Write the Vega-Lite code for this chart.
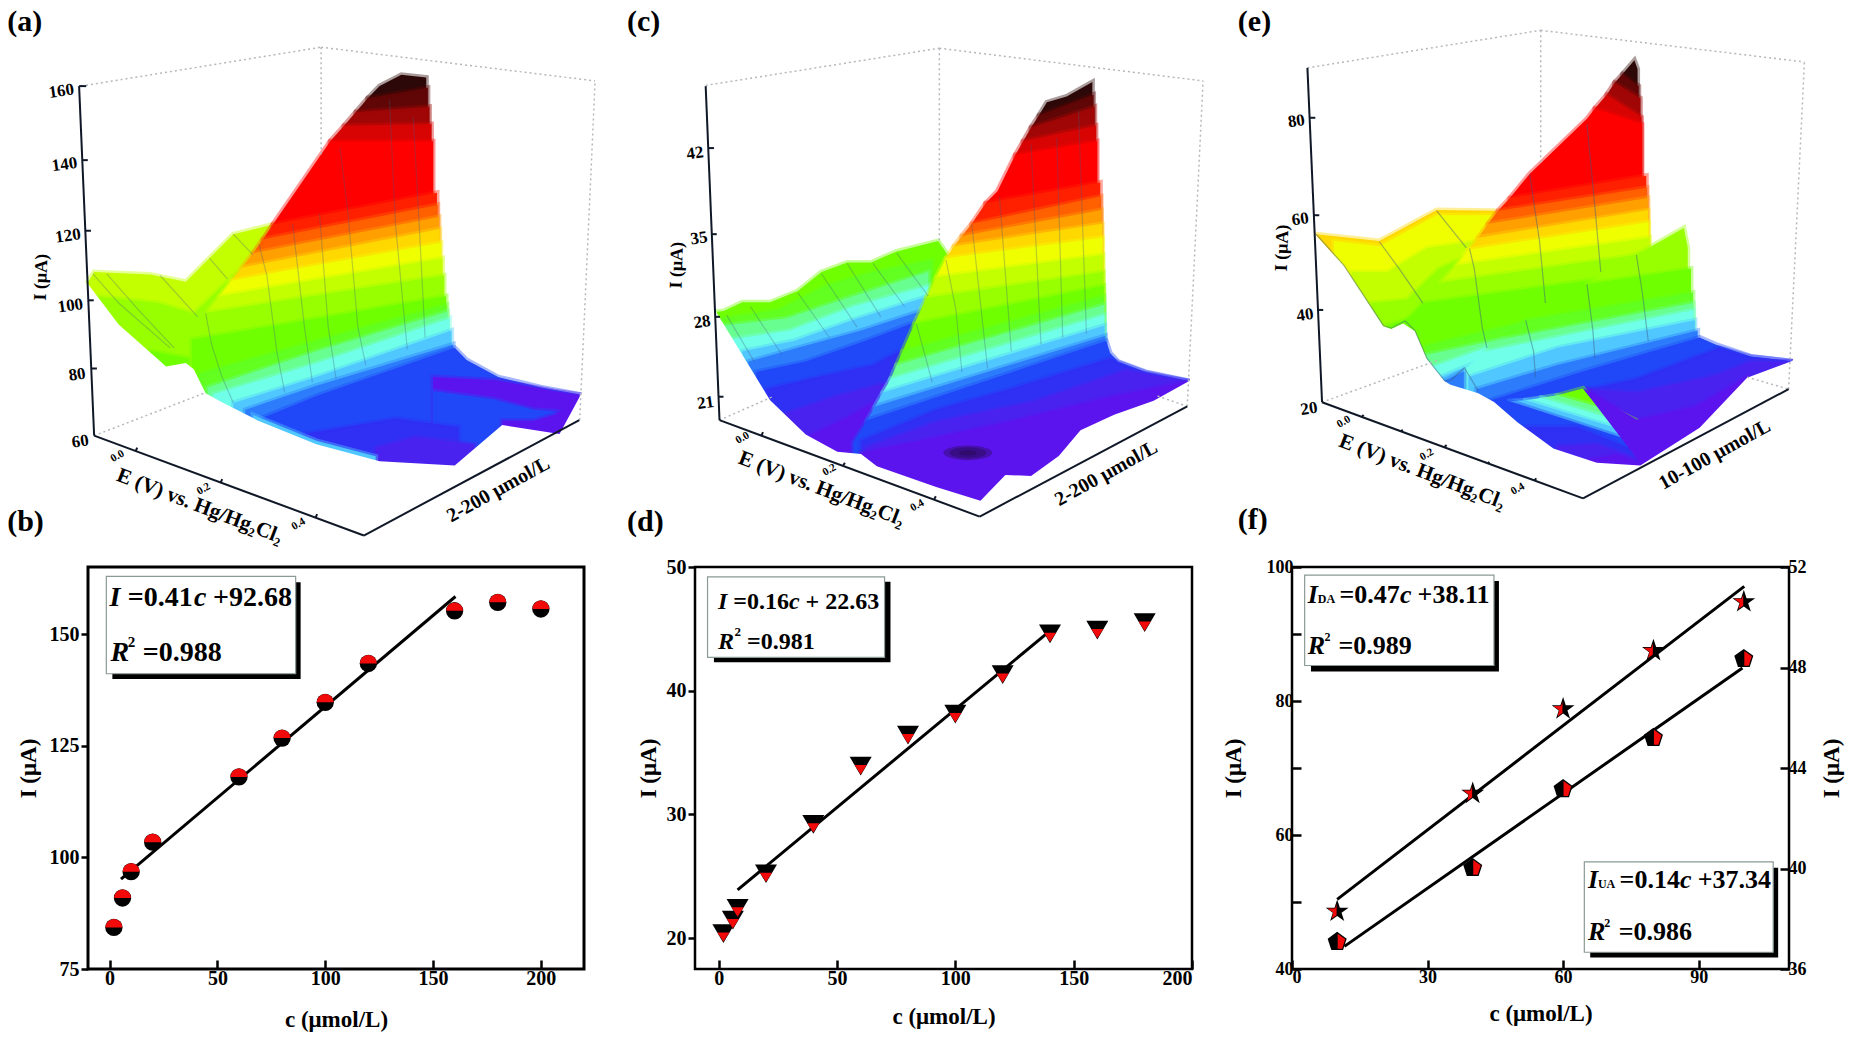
{"$schema":"https://vega.github.io/schema/vega-lite/v6.json","padding":{"left":7,"top":0,"right":0,"bottom":0},"background":"white","config":{"view":{"stroke":null},"font":"Liberation Serif","text":{"font":"Liberation Serif"}},"columns":3,"bounds":"flush","spacing":{"row":27,"column":100},"concat":[
{"width":507,"height":540,"encoding":{"x":{"field":"x","type":"quantitative","scale":{"domain":[222.5,1504.7],"nice":false,"zero":false},"axis":null},"y":{"field":"y","type":"quantitative","scale":{"domain":[1568,0],"nice":false,"zero":false},"axis":null}},"layer":[
{"data":{"values":[
{"s":"w","level":11,"x":222,"y":820},{"s":"w","level":11,"x":238,"y":790},{"s":"w","level":11,"x":380,"y":797},{"s":"w","level":11,"x":470,"y":818},{"s":"w","level":11,"x":590,"y":680},{"s":"w","level":11,"x":690,"y":652},
{"s":"w","level":10,"x":240,"y":860},{"s":"w","level":10,"x":400,"y":880},{"s":"w","level":10,"x":490,"y":910},{"s":"w","level":10,"x":600,"y":790},{"s":"w","level":10,"x":680,"y":725},
{"s":"w","level":9,"x":380,"y":1020},{"s":"w","level":9,"x":480,"y":1040},
{"s":"m","level":21,"x":930,"y":285},{"s":"m","level":21,"x":960,"y":250},{"s":"m","level":21,"x":1015,"y":217},{"s":"m","level":21,"x":1078,"y":225},
{"s":"m","level":20,"x":900,"y":325},{"s":"m","level":20,"x":930,"y":285},{"s":"m","level":20,"x":1082,"y":255},
{"s":"m","level":19,"x":870,"y":365},{"s":"m","level":19,"x":900,"y":325},{"s":"m","level":19,"x":1086,"y":310},
{"s":"m","level":18,"x":835,"y":410},{"s":"m","level":18,"x":870,"y":365},{"s":"m","level":18,"x":1091,"y":360},
{"s":"m","level":17,"x":690,"y":652},{"s":"m","level":17,"x":835,"y":410},{"s":"m","level":17,"x":1095,"y":410},
{"s":"m","level":16,"x":665,"y":695},{"s":"m","level":16,"x":690,"y":652},{"s":"m","level":16,"x":1105,"y":560},
{"s":"m","level":15,"x":640,"y":735},{"s":"m","level":15,"x":665,"y":695},{"s":"m","level":15,"x":1107,"y":595},
{"s":"m","level":14,"x":612,"y":777},{"s":"m","level":14,"x":640,"y":735},{"s":"m","level":14,"x":1110,"y":630},
{"s":"m","level":13,"x":585,"y":815},{"s":"m","level":13,"x":612,"y":777},{"s":"m","level":13,"x":1112,"y":665},
{"s":"m","level":12,"x":555,"y":860},{"s":"m","level":12,"x":585,"y":815},{"s":"m","level":12,"x":1115,"y":705},
{"s":"m","level":11,"x":522,"y":908},{"s":"m","level":11,"x":555,"y":860},{"s":"m","level":11,"x":1119,"y":750},
{"s":"m","level":10,"x":485,"y":985},{"s":"m","level":10,"x":522,"y":908},{"s":"m","level":10,"x":1123,"y":800},
{"s":"m","level":9,"x":485,"y":986},{"s":"m","level":9,"x":800,"y":925},{"s":"m","level":9,"x":1128,"y":860},
{"s":"m","level":8,"x":505,"y":1085},{"s":"m","level":8,"x":800,"y":990},{"s":"m","level":8,"x":1130,"y":885},
{"s":"m","level":7,"x":525,"y":1125},{"s":"m","level":7,"x":800,"y":1020},{"s":"m","level":7,"x":1132,"y":905},
{"s":"m","level":6,"x":540,"y":1145},{"s":"m","level":6,"x":800,"y":1055},{"s":"m","level":6,"x":1137,"y":925},
{"s":"m","level":5,"x":590,"y":1170},{"s":"m","level":5,"x":800,"y":1095},{"s":"m","level":5,"x":1142,"y":960},
{"s":"m","level":4,"x":620,"y":1190},{"s":"m","level":4,"x":800,"y":1120},{"s":"m","level":4,"x":1146,"y":1000},
{"s":"m","level":3,"x":660,"y":1215},{"s":"m","level":3,"x":800,"y":1150},{"s":"m","level":3,"x":1000,"y":1070},{"s":"m","level":3,"x":1150,"y":1010},{"s":"m","level":3,"x":1180,"y":1045},{"s":"m","level":3,"x":1260,"y":1095},{"s":"m","level":3,"x":1370,"y":1125},{"s":"m","level":3,"x":1465,"y":1145},
{"s":"p","level":0,"x":1095,"y":1095},{"s":"p","level":0,"x":1260,"y":1105},{"s":"p","level":0,"x":1400,"y":1135},{"s":"p","level":0,"x":1465,"y":1146},
{"s":"q","level":3,"x":1095,"y":1135},{"s":"q","level":3,"x":1250,"y":1160},{"s":"q","level":3,"x":1350,"y":1190},{"s":"q","level":3,"x":1465,"y":1200},
{"s":"q","level":2,"x":760,"y":1262},{"s":"q","level":2,"x":1000,"y":1215},{"s":"q","level":2,"x":1160,"y":1240},
{"s":"q","level":1,"x":950,"y":1300},{"s":"q","level":1,"x":1050,"y":1270},{"s":"q","level":1,"x":1200,"y":1290},
{"s":"r","level":0,"x":1270,"y":1222},{"s":"r","level":0,"x":1350,"y":1222},{"s":"r","level":0,"x":1400,"y":1205},{"s":"r","level":0,"x":1450,"y":1170},
{"s":"t","level":5,"x":640,"y":1205},{"s":"t","level":5,"x":800,"y":1280},{"s":"t","level":5,"x":950,"y":1325}
]},"mark":{"type":"area","strokeWidth":5,"strokeOpacity":0.4},"encoding":{"y2":{"datum":1568},"stroke":{"field":"level","type":"quantitative","legend":null,"scale":{"domain":[0,1,2,3,4,5,6,7,8,9,10,11,12,13,14,15,16,17,18,19,20,21],"range":["#5c14ee","#4a22f0","#3030f4","#2048f8","#2c7cfc","#50c8ff","#70ffe8","#68ff90","#62ff20","#70ff00","#98ff00","#c4ff00","#f0ff00","#ffd800","#ffa000","#ff6000","#ff2000","#ff0000","#d80404","#a00606","#600606","#2c0808"]}},"color":{"field":"level","type":"quantitative","legend":null,"scale":{"domain":[0,1,2,3,4,5,6,7,8,9,10,11,12,13,14,15,16,17,18,19,20,21],"range":["#5c14ee","#4a22f0","#3030f4","#2048f8","#2c7cfc","#50c8ff","#70ffe8","#68ff90","#62ff20","#70ff00","#98ff00","#c4ff00","#f0ff00","#ffd800","#ffa000","#ff6000","#ff2000","#ff0000","#d80404","#a00606","#600606","#2c0808"]}},"detail":[{"field":"s","type":"nominal"},{"field":"level","type":"nominal"}]}},
{"data":{"values":[{"x":210,"y":822},{"x":222,"y":824},{"x":300,"y":942},{"x":420,"y":1064},{"x":470,"y":1054},{"x":490,"y":1072},{"x":520,"y":1142},{"x":560,"y":1167},{"x":650,"y":1220},{"x":800,"y":1290},{"x":960,"y":1339},{"x":1150,"y":1352},{"x":1270,"y":1234},{"x":1415,"y":1260},{"x":1468,"y":1148},{"x":1482,"y":1120}]},"mark":{"type":"area","color":"white"},"encoding":{"y2":{"datum":1590}}},
{"data":{"values":[
{"g":"1","x":520,"y":910},{"g":"1","x":535,"y":1000},{"g":"1","x":560,"y":1090},{"g":"1","x":590,"y":1170},
{"g":"2","x":655,"y":710},{"g":"2","x":675,"y":800},{"g":"2","x":700,"y":1020},{"g":"2","x":720,"y":1140},
{"g":"3","x":740,"y":650},{"g":"3","x":770,"y":950},{"g":"3","x":790,"y":1110},
{"g":"4","x":808,"y":620},{"g":"4","x":830,"y":950},{"g":"4","x":850,"y":1100},
{"g":"5","x":860,"y":430},{"g":"5","x":880,"y":620},{"g":"5","x":905,"y":950},{"g":"5","x":925,"y":1060},
{"g":"6","x":985,"y":290},{"g":"6","x":1000,"y":650},{"g":"6","x":1030,"y":1015},
{"g":"7","x":1045,"y":340},{"g":"7","x":1060,"y":650},{"g":"7","x":1075,"y":980},
{"g":"8","x":235,"y":795},{"g":"8","x":300,"y":880},{"g":"8","x":430,"y":1010},
{"g":"9","x":270,"y":795},{"g":"9","x":350,"y":900},{"g":"9","x":440,"y":1010},
{"g":"10","x":405,"y":800},{"g":"10","x":500,"y":920},
{"g":"11","x":590,"y":680},{"g":"11","x":640,"y":740},
{"g":"12","x":530,"y":750},{"g":"12","x":575,"y":810}
]},"mark":{"type":"line","color":"#3a5a80","opacity":0.3,"strokeWidth":1.2},"encoding":{"detail":{"field":"g","type":"nominal"}}},
{"data":{"values":[
{"g":"a","x":205,"y":250},{"g":"a","x":812,"y":137},{"g":"b","x":812,"y":137},{"g":"b","x":1505,"y":235},{"g":"c","x":812,"y":137},{"g":"c","x":812,"y":450},{"g":"d","x":1466,"y":1220},{"g":"d","x":1505,"y":235},{"g":"e","x":238,"y":1265},{"g":"e","x":520,"y":1140}
]},"mark":{"type":"line","color":"#b4b8bc","strokeWidth":1.5,"strokeDash":[2,3]},"encoding":{"detail":{"field":"g","type":"nominal"}}},
{"data":{"values":[
{"g":"a","x":200,"y":250},{"g":"a","x":238,"y":1265},{"g":"t1","x":200,"y":250},{"g":"t1","x":218,"y":250},{"g":"t2","x":208,"y":465},{"g":"t2","x":222,"y":465},{"g":"t3","x":216,"y":670},{"g":"t3","x":230,"y":670},{"g":"t4","x":223,"y":872},{"g":"t4","x":237,"y":872},{"g":"t5","x":231,"y":1070},{"g":"t5","x":245,"y":1070},
{"g":"f","x":238,"y":1265},{"g":"f","x":920,"y":1555},{"g":"u1","x":343,"y":1310},{"g":"u1","x":347,"y":1300},{"g":"u2","x":558,"y":1401},{"g":"u2","x":562,"y":1391},{"g":"u3","x":798,"y":1503},{"g":"u3","x":802,"y":1493},
{"g":"r","x":920,"y":1555},{"g":"r","x":1465,"y":1220}
]},"mark":{"type":"line","color":"#101828","strokeWidth":2},"encoding":{"detail":{"field":"g","type":"nominal"}}},
{"data":{"values":[{"x":155,"y":265,"t":"160"},{"x":163,"y":478,"t":"140"},{"x":172,"y":685,"t":"120"},{"x":178,"y":888,"t":"100"},{"x":195,"y":1088,"t":"80"},{"x":203,"y":1282,"t":"60"}]},"mark":{"type":"text","angle":-8,"fontSize":17,"fontWeight":"bold","align":"center","baseline":"middle"},"encoding":{"text":{"field":"t"}}},
{"data":{"values":[{"x":105,"y":805,"t":"I (μA)"}]},"mark":{"type":"text","angle":-88,"fontSize":18,"fontWeight":"bold","align":"center","baseline":"middle"},"encoding":{"text":{"field":"t"}}},
{"data":{"values":[{"x":297,"y":1325,"t":"0.0"},{"x":515,"y":1420,"t":"0.2"},{"x":755,"y":1522,"t":"0.4"}]},"mark":{"type":"text","angle":-30,"fontSize":11,"fontWeight":"bold","align":"center","baseline":"middle"},"encoding":{"text":{"field":"t"}}},
{"data":{"values":[{"x":505,"y":1470,"t":"E (V) vs. Hg/Hg₂Cl₂"}]},"mark":{"type":"text","angle":21,"fontSize":21,"fontWeight":"bold","align":"center","baseline":"middle"},"encoding":{"text":{"field":"t"}}},
{"data":{"values":[{"x":1260,"y":1422,"t":"2-200 μmol/L"}]},"mark":{"type":"text","angle":-29,"fontSize":20,"fontWeight":"bold","align":"center","baseline":"middle"},"encoding":{"text":{"field":"t"}}},
{"data":{"values":[{"x":18,"y":65,"t":"(a)"},{"x":18,"y":1515,"t":"(b)"}]},"mark":{"type":"text","fontSize":30,"fontWeight":"bold","align":"left","baseline":"middle"},"encoding":{"text":{"field":"t"}}}
]},
{"width":497,"height":540,"encoding":{"x":{"field":"x","type":"quantitative","scale":{"domain":[190,1447],"nice":false,"zero":false},"axis":null},"y":{"field":"y","type":"quantitative","scale":{"domain":[1568,0],"nice":false,"zero":false},"axis":null}},"layer":[
{"data":{"values":[
{"s":"w","level":9,"x":245,"y":905},{"s":"w","level":9,"x":262,"y":903},{"s":"w","level":9,"x":310,"y":878},{"s":"w","level":9,"x":380,"y":878},{"s":"w","level":9,"x":450,"y":845},{"s":"w","level":9,"x":510,"y":790},{"s":"w","level":9,"x":575,"y":762},{"s":"w","level":9,"x":635,"y":762},{"s":"w","level":9,"x":700,"y":730},{"s":"w","level":9,"x":805,"y":700},{"s":"w","level":9,"x":832,"y":745},
{"s":"w","level":8,"x":255,"y":925},{"s":"w","level":8,"x":400,"y":900},{"s":"w","level":8,"x":520,"y":830},{"s":"w","level":8,"x":640,"y":790},{"s":"w","level":8,"x":790,"y":755},
{"s":"w","level":7,"x":265,"y":945},{"s":"w","level":7,"x":420,"y":925},{"s":"w","level":7,"x":590,"y":860},{"s":"w","level":7,"x":780,"y":790},
{"s":"w","level":6,"x":285,"y":985},{"s":"w","level":6,"x":430,"y":960},{"s":"w","level":6,"x":590,"y":890},{"s":"w","level":6,"x":780,"y":830},
{"s":"w","level":5,"x":310,"y":1020},{"s":"w","level":5,"x":440,"y":990},{"s":"w","level":5,"x":600,"y":925},{"s":"w","level":5,"x":780,"y":860},
{"s":"w","level":4,"x":325,"y":1050},{"s":"w","level":4,"x":450,"y":1010},{"s":"w","level":4,"x":610,"y":960},{"s":"w","level":4,"x":770,"y":900},
{"s":"w","level":3,"x":345,"y":1080},{"s":"w","level":3,"x":470,"y":1050},{"s":"w","level":3,"x":620,"y":990},{"s":"w","level":3,"x":760,"y":930},
{"s":"w","level":2,"x":370,"y":1130},{"s":"w","level":2,"x":480,"y":1100},{"s":"w","level":2,"x":640,"y":1060},{"s":"w","level":2,"x":740,"y":1000},
{"s":"w","level":1,"x":420,"y":1200},{"s":"w","level":1,"x":550,"y":1150},{"s":"w","level":1,"x":680,"y":1110},
{"s":"w","level":0,"x":480,"y":1265},{"s":"w","level":0,"x":580,"y":1210},{"s":"w","level":0,"x":640,"y":1170},
{"s":"m","level":21,"x":1060,"y":335},{"s":"m","level":21,"x":1080,"y":297},{"s":"m","level":21,"x":1130,"y":280},{"s":"m","level":21,"x":1195,"y":238},
{"s":"m","level":20,"x":1040,"y":370},{"s":"m","level":20,"x":1060,"y":335},{"s":"m","level":20,"x":1198,"y":275},
{"s":"m","level":19,"x":1020,"y":410},{"s":"m","level":19,"x":1040,"y":370},{"s":"m","level":19,"x":1201,"y":310},
{"s":"m","level":18,"x":1000,"y":450},{"s":"m","level":18,"x":1020,"y":410},{"s":"m","level":18,"x":1204,"y":365},
{"s":"m","level":17,"x":925,"y":590},{"s":"m","level":17,"x":955,"y":555},{"s":"m","level":17,"x":1000,"y":450},{"s":"m","level":17,"x":1207,"y":410},
{"s":"m","level":16,"x":890,"y":650},{"s":"m","level":16,"x":925,"y":590},{"s":"m","level":16,"x":1215,"y":530},
{"s":"m","level":15,"x":865,"y":685},{"s":"m","level":15,"x":890,"y":650},{"s":"m","level":15,"x":1217,"y":570},
{"s":"m","level":14,"x":845,"y":715},{"s":"m","level":14,"x":865,"y":685},{"s":"m","level":14,"x":1218,"y":610},
{"s":"m","level":13,"x":825,"y":750},{"s":"m","level":13,"x":845,"y":715},{"s":"m","level":13,"x":1220,"y":650},
{"s":"m","level":12,"x":800,"y":805},{"s":"m","level":12,"x":825,"y":750},{"s":"m","level":12,"x":1221,"y":690},
{"s":"m","level":11,"x":775,"y":865},{"s":"m","level":11,"x":800,"y":805},{"s":"m","level":11,"x":1222,"y":740},
{"s":"m","level":10,"x":745,"y":940},{"s":"m","level":10,"x":775,"y":865},{"s":"m","level":10,"x":1223,"y":790},
{"s":"m","level":9,"x":715,"y":1020},{"s":"m","level":9,"x":745,"y":940},{"s":"m","level":9,"x":1224,"y":830},
{"s":"m","level":8,"x":700,"y":1060},{"s":"m","level":8,"x":715,"y":1020},{"s":"m","level":8,"x":1224.5,"y":860},
{"s":"m","level":7,"x":685,"y":1100},{"s":"m","level":7,"x":700,"y":1060},{"s":"m","level":7,"x":1225,"y":885},
{"s":"m","level":6,"x":665,"y":1140},{"s":"m","level":6,"x":685,"y":1100},{"s":"m","level":6,"x":1225.5,"y":915},
{"s":"m","level":5,"x":645,"y":1180},{"s":"m","level":5,"x":665,"y":1140},{"s":"m","level":5,"x":1226,"y":945},
{"s":"m","level":4,"x":625,"y":1220},{"s":"m","level":4,"x":645,"y":1180},{"s":"m","level":4,"x":1228,"y":975},
{"s":"m","level":3,"x":590,"y":1285},{"s":"m","level":3,"x":625,"y":1220},{"s":"m","level":3,"x":1230,"y":990},{"s":"m","level":3,"x":1240,"y":1025},{"s":"m","level":3,"x":1260,"y":1050},{"s":"m","level":3,"x":1330,"y":1080},{"s":"m","level":3,"x":1435,"y":1105},
{"s":"m","level":2,"x":610,"y":1280},{"s":"m","level":2,"x":800,"y":1190},{"s":"m","level":2,"x":1000,"y":1125},{"s":"m","level":2,"x":1240,"y":1040},{"s":"m","level":2,"x":1260,"y":1052},{"s":"m","level":2,"x":1330,"y":1082},{"s":"m","level":2,"x":1435,"y":1106},
{"s":"m","level":1,"x":620,"y":1300},{"s":"m","level":1,"x":800,"y":1225},{"s":"m","level":1,"x":1050,"y":1165},{"s":"m","level":1,"x":1280,"y":1075},{"s":"m","level":1,"x":1330,"y":1085},{"s":"m","level":1,"x":1435,"y":1107},
{"s":"m","level":0,"x":610,"y":1315},{"s":"m","level":0,"x":800,"y":1270},{"s":"m","level":0,"x":1000,"y":1220},{"s":"m","level":0,"x":1250,"y":1150},{"s":"m","level":0,"x":1435,"y":1108}
]},"mark":{"type":"area","strokeWidth":5,"strokeOpacity":0.4},"encoding":{"y2":{"datum":1568},"stroke":{"field":"level","type":"quantitative","legend":null,"scale":{"domain":[0,1,2,3,4,5,6,7,8,9,10,11,12,13,14,15,16,17,18,19,20,21],"range":["#5c14ee","#4a22f0","#3030f4","#2048f8","#2c7cfc","#50c8ff","#70ffe8","#68ff90","#62ff20","#70ff00","#98ff00","#c4ff00","#f0ff00","#ffd800","#ffa000","#ff6000","#ff2000","#ff0000","#d80404","#a00606","#600606","#2c0808"]}},"color":{"field":"level","type":"quantitative","legend":null,"scale":{"domain":[0,1,2,3,4,5,6,7,8,9,10,11,12,13,14,15,16,17,18,19,20,21],"range":["#5c14ee","#4a22f0","#3030f4","#2048f8","#2c7cfc","#50c8ff","#70ffe8","#68ff90","#62ff20","#70ff00","#98ff00","#c4ff00","#f0ff00","#ffd800","#ffa000","#ff6000","#ff2000","#ff0000","#d80404","#a00606","#600606","#2c0808"]}},"detail":[{"field":"s","type":"nominal"},{"field":"level","type":"nominal"}]}},
{"data":{"values":[{"x":232,"y":880},{"x":245,"y":909},{"x":300,"y":1012},{"x":380,"y":1162},{"x":470,"y":1262},{"x":550,"y":1312},{"x":610,"y":1318},{"x":650,"y":1354},{"x":800,"y":1414},{"x":912,"y":1454},{"x":975,"y":1379},{"x":1040,"y":1382},{"x":1110,"y":1324},{"x":1165,"y":1249},{"x":1250,"y":1204},{"x":1350,"y":1164},{"x":1440,"y":1106},{"x":1455,"y":1090}]},"mark":{"type":"area","color":"white"},"encoding":{"y2":{"datum":1590}}},
{"data":{"values":[{"x":880,"y":1315,"d":3},{"x":880,"y":1315,"d":2},{"x":880,"y":1315,"d":1}]},"mark":{"type":"point","shape":"M-2 0A2 .6 0 1 1 2 0A2 .6 0 1 1 -2 0Z","filled":true,"color":"#200838","opacity":0.35,"strokeWidth":0},"encoding":{"size":{"field":"d","type":"quantitative","legend":null,"scale":{"domain":[1,3],"range":[80,600]}}}},
{"data":{"values":[
{"g":"1","x":270,"y":915},{"g":"1","x":340,"y":1050},{"g":"2","x":330,"y":890},{"g":"2","x":410,"y":1030},{"g":"3","x":450,"y":850},{"g":"3","x":530,"y":980},{"g":"4","x":510,"y":795},{"g":"4","x":600,"y":950},{"g":"5","x":575,"y":765},{"g":"5","x":660,"y":920},{"g":"6","x":640,"y":765},{"g":"6","x":720,"y":890},{"g":"7","x":700,"y":735},{"g":"7","x":780,"y":860},
{"g":"8","x":825,"y":755},{"g":"8","x":850,"y":900},{"g":"8","x":865,"y":1080},{"g":"9","x":750,"y":940},{"g":"9","x":790,"y":1110},{"g":"10","x":890,"y":650},{"g":"10","x":930,"y":1070},{"g":"11","x":960,"y":570},{"g":"11","x":990,"y":1020},{"g":"12","x":1040,"y":420},{"g":"12","x":1065,"y":1000},{"g":"13","x":1105,"y":400},{"g":"13","x":1120,"y":980},{"g":"14","x":1160,"y":320},{"g":"14","x":1180,"y":970}
]},"mark":{"type":"line","color":"#3a5a80","opacity":0.3,"strokeWidth":1.2},"encoding":{"detail":{"field":"g","type":"nominal"}}},
{"data":{"values":[
{"g":"a","x":217,"y":248},{"g":"a","x":808,"y":140},{"g":"b","x":808,"y":140},{"g":"b","x":1475,"y":235},{"g":"c","x":808,"y":140},{"g":"c","x":808,"y":700},{"g":"d","x":1435,"y":1180},{"g":"d","x":1475,"y":235},{"g":"e","x":252,"y":1220},{"g":"e","x":390,"y":1150},{"g":"f","x":1360,"y":1150},{"g":"f","x":1435,"y":1180}
]},"mark":{"type":"line","color":"#b4b8bc","strokeWidth":1.5,"strokeDash":[2,3]},"encoding":{"detail":{"field":"g","type":"nominal"}}},
{"data":{"values":[
{"g":"a","x":217,"y":250},{"g":"a","x":252,"y":1220},{"g":"t1","x":224,"y":430},{"g":"t1","x":238,"y":430},{"g":"t2","x":233,"y":680},{"g":"t2","x":245,"y":680},{"g":"t3","x":241,"y":920},{"g":"t3","x":253,"y":920},{"g":"t4","x":250,"y":1152},{"g":"t4","x":262,"y":1152},
{"g":"f","x":252,"y":1220},{"g":"f","x":910,"y":1500},{"g":"u1","x":358,"y":1265},{"g":"u1","x":362,"y":1255},{"g":"u2","x":565,"y":1352},{"g":"u2","x":569,"y":1344},{"g":"u3","x":795,"y":1450},{"g":"u3","x":799,"y":1441},
{"g":"r","x":910,"y":1500},{"g":"r","x":1435,"y":1180}
]},"mark":{"type":"line","color":"#101828","strokeWidth":2},"encoding":{"detail":{"field":"g","type":"nominal"}}},
{"data":{"values":[{"x":190,"y":445,"t":"42"},{"x":200,"y":692,"t":"35"},{"x":208,"y":935,"t":"28"},{"x":217,"y":1170,"t":"21"}]},"mark":{"type":"text","angle":-8,"fontSize":17,"fontWeight":"bold","align":"center","baseline":"middle"},"encoding":{"text":{"field":"t"}}},
{"data":{"values":[{"x":145,"y":770,"t":"I (μA)"}]},"mark":{"type":"text","angle":-88,"fontSize":18,"fontWeight":"bold","align":"center","baseline":"middle"},"encoding":{"text":{"field":"t"}}},
{"data":{"values":[{"x":310,"y":1272,"t":"0.0"},{"x":530,"y":1365,"t":"0.2"},{"x":752,"y":1468,"t":"0.4"}]},"mark":{"type":"text","angle":-30,"fontSize":11,"fontWeight":"bold","align":"center","baseline":"middle"},"encoding":{"text":{"field":"t"}}},
{"data":{"values":[{"x":510,"y":1420,"t":"E (V) vs. Hg/Hg₂Cl₂"}]},"mark":{"type":"text","angle":21,"fontSize":21,"fontWeight":"bold","align":"center","baseline":"middle"},"encoding":{"text":{"field":"t"}}},
{"data":{"values":[{"x":1230,"y":1375,"t":"2-200 μmol/L"}]},"mark":{"type":"text","angle":-29,"fontSize":20,"fontWeight":"bold","align":"center","baseline":"middle"},"encoding":{"text":{"field":"t"}}},
{"data":{"values":[{"x":18,"y":65,"t":"(c)"},{"x":18,"y":1515,"t":"(d)"}]},"mark":{"type":"text","fontSize":30,"fontWeight":"bold","align":"left","baseline":"middle"},"encoding":{"text":{"field":"t"}}}
]},
{"width":497,"height":540,"encoding":{"x":{"field":"x","type":"quantitative","scale":{"domain":[129,1386],"nice":false,"zero":false},"axis":null},"y":{"field":"y","type":"quantitative","scale":{"domain":[1568,0],"nice":false,"zero":false},"axis":null}},"layer":[
{"data":{"values":[
{"s":"w","level":13,"x":190,"y":680},{"s":"w","level":13,"x":350,"y":700},{"s":"w","level":13,"x":495,"y":610},{"s":"w","level":13,"x":640,"y":612},{"s":"w","level":13,"x":655,"y":625},
{"s":"w","level":12,"x":235,"y":700},{"s":"w","level":12,"x":350,"y":715},{"s":"w","level":12,"x":495,"y":625},{"s":"w","level":12,"x":640,"y":625},
{"s":"w","level":11,"x":280,"y":790},{"s":"w","level":11,"x":370,"y":790},{"s":"w","level":11,"x":470,"y":720},{"s":"w","level":11,"x":600,"y":700},
{"s":"w","level":10,"x":330,"y":880},{"s":"w","level":10,"x":420,"y":870},{"s":"w","level":10,"x":500,"y":780},{"s":"w","level":10,"x":580,"y":740},
{"s":"w","level":9,"x":370,"y":945},{"s":"w","level":9,"x":440,"y":920},
{"s":"m","level":21,"x":965,"y":215},{"s":"m","level":21,"x":995,"y":175},{"s":"m","level":21,"x":1003,"y":200},
{"s":"m","level":20,"x":945,"y":240},{"s":"m","level":20,"x":965,"y":215},{"s":"m","level":20,"x":1006,"y":250},
{"s":"m","level":19,"x":925,"y":275},{"s":"m","level":19,"x":945,"y":240},{"s":"m","level":19,"x":1010,"y":285},
{"s":"m","level":18,"x":895,"y":315},{"s":"m","level":18,"x":925,"y":275},{"s":"m","level":18,"x":1013,"y":340},
{"s":"m","level":17,"x":680,"y":575},{"s":"m","level":17,"x":730,"y":505},{"s":"m","level":17,"x":875,"y":345},{"s":"m","level":17,"x":895,"y":315},{"s":"m","level":17,"x":1014,"y":360},
{"s":"m","level":16,"x":650,"y":612},{"s":"m","level":16,"x":680,"y":575},{"s":"m","level":16,"x":1025,"y":510},
{"s":"m","level":15,"x":625,"y":650},{"s":"m","level":15,"x":650,"y":612},{"s":"m","level":15,"x":1027,"y":545},
{"s":"m","level":14,"x":600,"y":690},{"s":"m","level":14,"x":625,"y":650},{"s":"m","level":14,"x":1029,"y":575},
{"s":"m","level":13,"x":575,"y":725},{"s":"m","level":13,"x":600,"y":690},{"s":"m","level":13,"x":1030,"y":610},
{"s":"m","level":12,"x":545,"y":770},{"s":"m","level":12,"x":575,"y":725},{"s":"m","level":12,"x":1031,"y":645},
{"s":"m","level":11,"x":505,"y":820},{"s":"m","level":11,"x":545,"y":770},{"s":"m","level":11,"x":1033,"y":690},
{"s":"m","level":10,"x":460,"y":880},{"s":"m","level":10,"x":505,"y":820},{"s":"m","level":10,"x":1034,"y":735},
{"s":"m","level":9,"x":415,"y":935},{"s":"m","level":9,"x":460,"y":880},{"s":"m","level":9,"x":1036,"y":790},
{"s":"m","level":8,"x":465,"y":1005},{"s":"m","level":8,"x":700,"y":940},{"s":"m","level":8,"x":1036,"y":830},
{"s":"m","level":7,"x":470,"y":1030},{"s":"m","level":7,"x":700,"y":975},{"s":"m","level":7,"x":1036,"y":880},
{"s":"m","level":6,"x":485,"y":1065},{"s":"m","level":6,"x":620,"y":1010},
{"s":"m","level":5,"x":505,"y":1095},{"s":"m","level":5,"x":620,"y":1040},
{"s":"m","level":4,"x":515,"y":1105},{"s":"m","level":4,"x":560,"y":1080},{"s":"m","level":4,"x":640,"y":1070},
{"s":"f","level":10,"x":875,"y":825},{"s":"f","level":10,"x":1000,"y":740},{"s":"f","level":10,"x":1120,"y":662},{"s":"f","level":10,"x":1130,"y":720},
{"s":"f","level":9,"x":720,"y":930},{"s":"f","level":9,"x":875,"y":825},{"s":"f","level":9,"x":1138,"y":780},
{"s":"f","level":8,"x":660,"y":985},{"s":"f","level":8,"x":720,"y":930},{"s":"f","level":8,"x":1143,"y":850},
{"s":"f","level":7,"x":620,"y":1020},{"s":"f","level":7,"x":660,"y":985},{"s":"f","level":7,"x":1144,"y":880},
{"s":"f","level":6,"x":570,"y":1068},{"s":"f","level":6,"x":620,"y":1020},{"s":"f","level":6,"x":1145,"y":900},
{"s":"f","level":5,"x":575,"y":1095},{"s":"f","level":5,"x":800,"y":1010},{"s":"f","level":5,"x":1148,"y":930},
{"s":"f","level":4,"x":595,"y":1130},{"s":"f","level":4,"x":800,"y":1060},{"s":"f","level":4,"x":1155,"y":960},
{"s":"f","level":3,"x":625,"y":1165},{"s":"f","level":3,"x":860,"y":1080},{"s":"f","level":3,"x":1160,"y":980},{"s":"f","level":3,"x":1200,"y":1000},{"s":"f","level":3,"x":1290,"y":1035},{"s":"f","level":3,"x":1390,"y":1048},
{"s":"f","level":2,"x":800,"y":1150},{"s":"f","level":2,"x":1000,"y":1100},{"s":"f","level":2,"x":1210,"y":1010},{"s":"f","level":2,"x":1290,"y":1036},{"s":"f","level":2,"x":1390,"y":1049},
{"s":"f","level":1,"x":880,"y":1130},{"s":"f","level":1,"x":1000,"y":1140},{"s":"f","level":1,"x":1200,"y":1090},{"s":"f","level":1,"x":1290,"y":1050},{"s":"f","level":1,"x":1390,"y":1050},
{"s":"f","level":0,"x":880,"y":1135},{"s":"f","level":0,"x":1000,"y":1220},{"s":"f","level":0,"x":1150,"y":1180},{"s":"f","level":0,"x":1280,"y":1095},
{"s":"p","level":9,"x":800,"y":1148},{"s":"p","level":9,"x":865,"y":1128},{"s":"p","level":9,"x":885,"y":1158},{"s":"p","level":9,"x":1012,"y":1228},
{"s":"p","level":7,"x":760,"y":1155},{"s":"p","level":7,"x":800,"y":1148},{"s":"p","level":7,"x":900,"y":1180},{"s":"p","level":7,"x":1012,"y":1230},
{"s":"p","level":6,"x":720,"y":1162},{"s":"p","level":6,"x":760,"y":1155},{"s":"p","level":6,"x":920,"y":1210},{"s":"p","level":6,"x":1012,"y":1232},
{"s":"p","level":5,"x":680,"y":1165},{"s":"p","level":5,"x":720,"y":1162},{"s":"p","level":5,"x":940,"y":1240},{"s":"p","level":5,"x":1012,"y":1250},
{"s":"p","level":3,"x":640,"y":1165},{"s":"p","level":3,"x":680,"y":1165},{"s":"p","level":3,"x":960,"y":1270},{"s":"p","level":3,"x":1012,"y":1280},
{"s":"p","level":2,"x":720,"y":1240},{"s":"p","level":2,"x":850,"y":1240},{"s":"p","level":2,"x":980,"y":1300},{"s":"p","level":2,"x":1012,"y":1310},
{"s":"p","level":1,"x":800,"y":1295},{"s":"p","level":1,"x":900,"y":1290},{"s":"p","level":1,"x":1000,"y":1330},{"s":"p","level":1,"x":1012,"y":1340},
{"s":"p","level":0,"x":880,"y":1335},{"s":"p","level":0,"x":950,"y":1320},{"s":"p","level":0,"x":1012,"y":1345}
]},"mark":{"type":"area","strokeWidth":5,"strokeOpacity":0.4},"encoding":{"y2":{"datum":1568},"stroke":{"field":"level","type":"quantitative","legend":null,"scale":{"domain":[0,1,2,3,4,5,6,7,8,9,10,11,12,13,14,15,16,17,18,19,20,21],"range":["#5c14ee","#4a22f0","#3030f4","#2048f8","#2c7cfc","#50c8ff","#70ffe8","#68ff90","#62ff20","#70ff00","#98ff00","#c4ff00","#f0ff00","#ffd800","#ffa000","#ff6000","#ff2000","#ff0000","#d80404","#a00606","#600606","#2c0808"]}},"color":{"field":"level","type":"quantitative","legend":null,"scale":{"domain":[0,1,2,3,4,5,6,7,8,9,10,11,12,13,14,15,16,17,18,19,20,21],"range":["#5c14ee","#4a22f0","#3030f4","#2048f8","#2c7cfc","#50c8ff","#70ffe8","#68ff90","#62ff20","#70ff00","#98ff00","#c4ff00","#f0ff00","#ffd800","#ffa000","#ff6000","#ff2000","#ff0000","#d80404","#a00606","#600606","#2c0808"]}},"detail":[{"field":"s","type":"nominal"},{"field":"level","type":"nominal"}]}},
{"data":{"values":[{"x":865,"y":1128,"b":1128},{"x":880,"y":1135,"b":1150},{"x":1000,"y":1218,"b":1330},{"x":1014,"y":1216,"b":1352},{"x":1026,"y":1212,"b":1345}]},"mark":{"type":"area","color":"#5c14ee"},"encoding":{"y2":{"field":"b"}}},
{"data":{"values":[{"x":175,"y":664},{"x":190,"y":684},{"x":260,"y":772},{"x":360,"y":947},{"x":380,"y":955},{"x":410,"y":939},{"x":440,"y":962},{"x":470,"y":1042},{"x":515,"y":1107},{"x":530,"y":1117},{"x":600,"y":1142},{"x":640,"y":1167},{"x":700,"y":1227},{"x":790,"y":1302},{"x":900,"y":1344},{"x":1010,"y":1352},{"x":1160,"y":1242},{"x":1280,"y":1097},{"x":1394,"y":1048},{"x":1410,"y":1030}]},"mark":{"type":"area","color":"white"},"encoding":{"y2":{"datum":1590}}},
{"data":{"values":[
{"g":"1","x":350,"y":702},{"g":"1","x":400,"y":780},{"g":"1","x":460,"y":880},{"g":"2","x":495,"y":612},{"g":"2","x":570,"y":720},
{"g":"3","x":578,"y":722},{"g":"3","x":590,"y":780},{"g":"3","x":610,"y":950},{"g":"3","x":622,"y":1010},
{"g":"4","x":730,"y":505},{"g":"4","x":755,"y":700},{"g":"4","x":770,"y":880},
{"g":"5","x":875,"y":360},{"g":"5","x":895,"y":600},{"g":"5","x":910,"y":790},
{"g":"6","x":720,"y":930},{"g":"6","x":740,"y":1020},{"g":"6","x":745,"y":1095},
{"g":"7","x":875,"y":825},{"g":"7","x":890,"y":960},{"g":"7","x":895,"y":1040},
{"g":"8","x":1000,"y":740},{"g":"8","x":1015,"y":850},{"g":"8","x":1030,"y":990},
{"g":"9","x":190,"y":680},{"g":"9","x":260,"y":770},{"g":"9","x":360,"y":945},{"g":"9","x":380,"y":953},{"g":"9","x":415,"y":932},{"g":"9","x":440,"y":960},{"g":"9","x":470,"y":1040},{"g":"9","x":515,"y":1105},{"g":"9","x":530,"y":1105},{"g":"9","x":565,"y":1068},{"g":"9","x":600,"y":1135}
]},"mark":{"type":"line","color":"#3a5a80","opacity":0.45,"strokeWidth":1.2},"encoding":{"detail":{"field":"g","type":"nominal"}}},
{"data":{"values":[
{"g":"a","x":168,"y":197},{"g":"a","x":758,"y":88},{"g":"b","x":758,"y":88},{"g":"b","x":1425,"y":180},{"g":"c","x":758,"y":88},{"g":"c","x":758,"y":480},{"g":"d","x":1385,"y":1130},{"g":"d","x":1425,"y":180},{"g":"e","x":205,"y":1168},{"g":"e","x":500,"y":1045},{"g":"f","x":1280,"y":1095},{"g":"f","x":1385,"y":1130}
]},"mark":{"type":"line","color":"#b4b8bc","strokeWidth":1.5,"strokeDash":[2,3]},"encoding":{"detail":{"field":"g","type":"nominal"}}},
{"data":{"values":[
{"g":"a","x":168,"y":197},{"g":"a","x":205,"y":1168},{"g":"t1","x":174,"y":342},{"g":"t1","x":188,"y":342},{"g":"t2","x":184,"y":625},{"g":"t2","x":198,"y":625},{"g":"t3","x":195,"y":900},{"g":"t3","x":208,"y":900},
{"g":"f","x":205,"y":1168},{"g":"f","x":865,"y":1447},{"g":"u1","x":305,"y":1212},{"g":"u1","x":310,"y":1205},{"g":"u2","x":405,"y":1252},{"g":"u2","x":409,"y":1248},{"g":"u3","x":515,"y":1298},{"g":"u3","x":520,"y":1292},{"g":"u4","x":625,"y":1345},{"g":"u4","x":628,"y":1341},{"g":"u5","x":742,"y":1395},{"g":"u5","x":747,"y":1389},
{"g":"r","x":865,"y":1447},{"g":"r","x":1385,"y":1130}
]},"mark":{"type":"line","color":"#101828","strokeWidth":2},"encoding":{"detail":{"field":"g","type":"nominal"}}},
{"data":{"values":[{"x":140,"y":352,"t":"80"},{"x":150,"y":637,"t":"60"},{"x":162,"y":915,"t":"40"},{"x":172,"y":1187,"t":"20"}]},"mark":{"type":"text","angle":-8,"fontSize":17,"fontWeight":"bold","align":"center","baseline":"middle"},"encoding":{"text":{"field":"t"}}},
{"data":{"values":[{"x":105,"y":720,"t":"I (μA)"}]},"mark":{"type":"text","angle":-88,"fontSize":18,"fontWeight":"bold","align":"center","baseline":"middle"},"encoding":{"text":{"field":"t"}}},
{"data":{"values":[{"x":260,"y":1225,"t":"0.0"},{"x":470,"y":1320,"t":"0.2"},{"x":700,"y":1420,"t":"0.4"}]},"mark":{"type":"text","angle":-30,"fontSize":11,"fontWeight":"bold","align":"center","baseline":"middle"},"encoding":{"text":{"field":"t"}}},
{"data":{"values":[{"x":458,"y":1370,"t":"E (V) vs. Hg/Hg₂Cl₂"}]},"mark":{"type":"text","angle":21,"fontSize":21,"fontWeight":"bold","align":"center","baseline":"middle"},"encoding":{"text":{"field":"t"}}},
{"data":{"values":[{"x":1198,"y":1320,"t":"10-100 μmol/L"}]},"mark":{"type":"text","angle":-29,"fontSize":20,"fontWeight":"bold","align":"center","baseline":"middle"},"encoding":{"text":{"field":"t"}}},
{"data":{"values":[{"x":-8,"y":65,"t":"(e)"},{"x":-8,"y":1510,"t":"(f)"}]},"mark":{"type":"text","fontSize":30,"fontWeight":"bold","align":"left","baseline":"middle"},"encoding":{"text":{"field":"t"}}}
]},
{"width":496,"height":402,"view":{"stroke":"black","strokeWidth":3},"layer":[
{"data":{"values":[{"a":1.3,"b":88.6,"c":161.6,"d":139.9}]},"mark":{"type":"rect","color":"black"},"encoding":{"x":{"field":"a","type":"quantitative","scale":{"domain":[-10,220],"nice":false,"zero":false},"axis":{"values":[0,50,100,150,200],"title":"c (μmol/L)","tickSize":-9,"tickWidth":2.5,"tickColor":"black","domain":false,"grid":false,"labelFont":"Liberation Serif","labelFontWeight":"bold","labelFontSize":20,"labelColor":"black","labelPadding":8,"titleFont":"Liberation Serif","titleFontWeight":"bold","titleFontSize":23,"titleColor":"black","titlePadding":20}},"x2":{"field":"b"},"y":{"field":"c","type":"quantitative","scale":{"domain":[75,165],"nice":false,"zero":false},"axis":{"values":[75,100,125,150],"title":"I (μA)","tickSize":7,"tickWidth":2.5,"tickColor":"black","domain":false,"grid":false,"labelFont":"Liberation Serif","labelFontWeight":"bold","labelFontSize":20,"labelColor":"black","labelPadding":2,"titleFont":"Liberation Serif","titleFontWeight":"bold","titleFontSize":23,"titleColor":"black","titlePadding":9}},"y2":{"field":"d"}}},
{"data":{"values":[{"a":-1.5,"b":86.3,"c":162.9,"d":141.1}]},"mark":{"type":"rect","fill":"white","stroke":"#8a9a96","strokeWidth":1.2},"encoding":{"x":{"field":"a","type":"quantitative"},"x2":{"field":"b"},"y":{"field":"c","type":"quantitative"},"y2":{"field":"d"}}},
{"data":{"values":[{"c":5.3,"I":95.1},{"c":160.4,"I":158.4}]},"mark":{"type":"line","color":"black","strokeWidth":3},"encoding":{"x":{"field":"c","type":"quantitative"},"y":{"field":"I","type":"quantitative"}}},
{"data":{"name":"bp","values":[{"c":2,"I":84.3},{"c":6,"I":90.9},{"c":10,"I":96.8},{"c":20,"I":103.4},{"c":60,"I":118},{"c":80,"I":126.7},{"c":100,"I":134.7},{"c":120,"I":143.4},{"c":160,"I":155.2},{"c":180,"I":157.1},{"c":200,"I":155.6}]},"layer":[{"mark":{"type":"point","shape":"circle","filled":true,"color":"black","size":300,"opacity":1},"encoding":{"x":{"field":"c","type":"quantitative"},"y":{"field":"I","type":"quantitative"}}},{"mark":{"type":"point","shape":"M-1 0A1 1 0 0 1 1 0Z","filled":true,"color":"#f20a0a","size":280,"opacity":1,"strokeWidth":0},"encoding":{"x":{"field":"c","type":"quantitative"},"y":{"field":"I","type":"quantitative"}}}]},
{"data":{"values":[{"c":8.4,"I":156.3,"t":"=0.41"},{"c":48,"I":156.3,"t":"+92.68"},{"c":15.4,"I":144,"t":"=0.988"}]},"mark":{"type":"text","fontSize":28,"fontWeight":"bold","align":"left","baseline":"alphabetic"},"encoding":{"x":{"field":"c","type":"quantitative"},"y":{"field":"I","type":"quantitative"},"text":{"field":"t"}}},
{"data":{"values":[{"c":0,"I":156.3,"t":"I"},{"c":39.2,"I":156.3,"t":"c"},{"c":0.4,"I":144,"t":"R"}]},"mark":{"type":"text","fontSize":28,"fontWeight":"bold","fontStyle":"italic","align":"left","baseline":"alphabetic"},"encoding":{"x":{"field":"c","type":"quantitative"},"y":{"field":"I","type":"quantitative"},"text":{"field":"t"}}},
{"data":{"values":[{"c":8.4,"I":147.2,"t":"2"}]},"mark":{"type":"text","fontSize":15,"fontWeight":"bold","align":"left","baseline":"alphabetic"},"encoding":{"x":{"field":"c","type":"quantitative"},"y":{"field":"I","type":"quantitative"},"text":{"field":"t"}}}
]},
{"width":497,"height":402,"view":{"stroke":"black","strokeWidth":2.5},"layer":[
{"data":{"values":[{"a":-2,"b":72.6,"c":48.8,"d":42.3}]},"mark":{"type":"rect","color":"black"},"encoding":{"x":{"field":"a","type":"quantitative","scale":{"domain":[-10,200],"nice":false,"zero":false},"axis":{"values":[0,50,100,150,200],"title":"c (μmol/L)","tickSize":-9,"tickWidth":2.5,"tickColor":"black","domain":false,"grid":false,"labelFont":"Liberation Serif","labelFontWeight":"bold","labelFontSize":20,"labelColor":"black","labelPadding":8,"titleFont":"Liberation Serif","titleFontWeight":"bold","titleFontSize":23,"titleColor":"black","titlePadding":17}},"x2":{"field":"b"},"y":{"field":"c","type":"quantitative","scale":{"domain":[17.5,50],"nice":false,"zero":false},"axis":{"values":[20,30,40,50],"title":"I (μA)","tickSize":7,"tickWidth":2.5,"tickColor":"black","domain":false,"grid":false,"labelFont":"Liberation Serif","labelFontWeight":"bold","labelFontSize":20,"labelColor":"black","labelPadding":2,"titleFont":"Liberation Serif","titleFontWeight":"bold","titleFontSize":23,"titleColor":"black","titlePadding":6}},"y2":{"field":"d"}}},
{"data":{"values":[{"a":-4.7,"b":70.1,"c":49.2,"d":42.7}]},"mark":{"type":"rect","fill":"white","stroke":"#8a9a96","strokeWidth":1.2},"encoding":{"x":{"field":"a","type":"quantitative"},"x2":{"field":"b"},"y":{"field":"c","type":"quantitative"},"y2":{"field":"d"}}},
{"data":{"values":[{"c":8,"I":23.9},{"c":141,"I":45}]},"mark":{"type":"line","color":"black","strokeWidth":3},"encoding":{"x":{"field":"c","type":"quantitative"},"y":{"field":"I","type":"quantitative"}}},
{"data":{"values":[{"c":2,"I":20.36},{"c":6,"I":21.45},{"c":8,"I":22.4},{"c":20,"I":25.2},{"c":40,"I":29.2},{"c":60,"I":33.9},{"c":80,"I":36.4},{"c":100,"I":38.1},{"c":120,"I":41.3},{"c":140,"I":44.6},{"c":160,"I":44.9},{"c":180,"I":45.5}]},"layer":[{"mark":{"type":"point","shape":"M-1 -.85L1 -.85L0 .85Z","filled":true,"color":"black","size":484,"opacity":1,"strokeWidth":0},"encoding":{"x":{"field":"c","type":"quantitative"},"y":{"field":"I","type":"quantitative"}}},{"mark":{"type":"point","shape":"M-.55 -.1L.55 -.1L0 .75Z","filled":true,"color":"#f20a0a","size":484,"opacity":1,"strokeWidth":0},"encoding":{"x":{"field":"c","type":"quantitative"},"y":{"field":"I","type":"quantitative"}}}]},
{"data":{"values":[{"c":6.2,"I":46.6,"t":"=0.16"},{"c":36.7,"I":46.6,"t":"+ 22.63"},{"c":12,"I":43.4,"t":"=0.981"}]},"mark":{"type":"text","fontSize":24,"fontWeight":"bold","align":"left","baseline":"alphabetic"},"encoding":{"x":{"field":"c","type":"quantitative"},"y":{"field":"I","type":"quantitative"},"text":{"field":"t"}}},
{"data":{"values":[{"c":-0.3,"I":46.6,"t":"I"},{"c":29.7,"I":46.6,"t":"c"},{"c":-0.3,"I":43.4,"t":"R"}]},"mark":{"type":"text","fontSize":24,"fontWeight":"bold","fontStyle":"italic","align":"left","baseline":"alphabetic"},"encoding":{"x":{"field":"c","type":"quantitative"},"y":{"field":"I","type":"quantitative"},"text":{"field":"t"}}},
{"data":{"values":[{"c":6.7,"I":44.4,"t":"2"}]},"mark":{"type":"text","fontSize":13,"fontWeight":"bold","align":"left","baseline":"alphabetic"},"encoding":{"x":{"field":"c","type":"quantitative"},"y":{"field":"I","type":"quantitative"},"text":{"field":"t"}}}
]},
{"width":497,"height":402,"view":{"stroke":"black","strokeWidth":2.5},"resolve":{"scale":{"y":"independent"}},"layer":[
{"layer":[
{"data":{"values":[{"a":4.2,"b":45.8,"c":97.9,"d":84.4},{"a":66,"b":107.6,"c":55.1,"d":41.7}]},"mark":{"type":"rect","color":"black"},"encoding":{"x":{"field":"a","type":"quantitative","scale":{"domain":[0,110],"nice":false,"zero":false},"axis":{"values":[0,30,60,90],"title":"c (μmol/L)","tickSize":-9,"tickWidth":2.5,"tickColor":"black","domain":false,"grid":false,"labelFont":"Liberation Serif","labelFontWeight":"bold","labelFontSize":18,"labelColor":"black","labelPadding":8,"titleFont":"Liberation Serif","titleFontWeight":"bold","titleFontSize":23,"titleColor":"black","titlePadding":16}},"x2":{"field":"b"},"y":{"field":"c","type":"quantitative","scale":{"domain":[40,100],"nice":false,"zero":false},"axis":{"values":[40,50,60,70,80,90,100],"labelExpr":"datum.value % 20 === 0 ? datum.label : ''","title":"I (μA)","orient":"left","tickSize":-9,"tickWidth":2.5,"tickColor":"black","domain":false,"grid":false,"labelFont":"Liberation Serif","labelFontWeight":"bold","labelFontSize":18,"labelColor":"black","labelPadding":8,"titleFont":"Liberation Serif","titleFontWeight":"bold","titleFontSize":23,"titleColor":"black","titlePadding":21}},"y2":{"field":"d"}}},
{"data":{"values":[{"a":2.8,"b":44.7,"c":98.8,"d":85.3},{"a":64.7,"b":106.5,"c":56,"d":42.5}]},"mark":{"type":"rect","fill":"white","stroke":"#8a9a96","strokeWidth":1.2},"encoding":{"x":{"field":"a","type":"quantitative"},"x2":{"field":"b"},"y":{"field":"c","type":"quantitative"},"y2":{"field":"d"}}},
{"data":{"values":[{"c":10,"I":50.4},{"c":100.1,"I":97.1}]},"mark":{"type":"line","color":"black","strokeWidth":3},"encoding":{"x":{"field":"c","type":"quantitative"},"y":{"field":"I","type":"quantitative"}}},
{"data":{"values":[{"c":10,"I":48.6},{"c":40,"I":66.2},{"c":60,"I":78.8},{"c":80,"I":87.5},{"c":100,"I":94.8}]},"layer":[{"mark":{"type":"point","shape":"M0 -1L.225 -.309L.951 -.309L.363 .118L.588 .809L0 .382L-.588 .809L-.363 .118L-.951 -.309L-.225 -.309Z","filled":true,"color":"black","size":576,"opacity":1,"strokeWidth":0},"encoding":{"x":{"field":"c","type":"quantitative"},"y":{"field":"I","type":"quantitative"}}},{"mark":{"type":"point","shape":"M-.8 -.25L-.18 -.25L-.05 -.6L-.05 .32L-.45 .6L-.33 .1Z","filled":true,"color":"#f20a0a","size":576,"opacity":1,"strokeWidth":0},"encoding":{"x":{"field":"c","type":"quantitative"},"y":{"field":"I","type":"quantitative"}}}]},
{"data":{"values":[{"c":10.5,"I":94.7,"t":"=0.47"},{"c":27.8,"I":94.7,"t":"+38.11"},{"c":10.3,"I":87,"t":"=0.989"},{"c":72.5,"I":52.1,"t":"=0.14"},{"c":89.8,"I":52.1,"t":"+37.34"},{"c":72.3,"I":44.3,"t":"=0.986"}]},"mark":{"type":"text","fontSize":26,"fontWeight":"bold","align":"left","baseline":"alphabetic"},"encoding":{"x":{"field":"c","type":"quantitative"},"y":{"field":"I","type":"quantitative"},"text":{"field":"t"}}},
{"data":{"values":[{"c":3.5,"I":94.7,"t":"I"},{"c":23.9,"I":94.7,"t":"c"},{"c":3.5,"I":87,"t":"R"},{"c":65.5,"I":52.1,"t":"I"},{"c":85.9,"I":52.1,"t":"c"},{"c":65.5,"I":44.3,"t":"R"}]},"mark":{"type":"text","fontSize":26,"fontWeight":"bold","fontStyle":"italic","align":"left","baseline":"alphabetic"},"encoding":{"x":{"field":"c","type":"quantitative"},"y":{"field":"I","type":"quantitative"},"text":{"field":"t"}}},
{"data":{"values":[{"c":7.2,"I":88.9,"t":"2"},{"c":69.1,"I":46.2,"t":"2"},{"c":5.7,"I":94.7,"t":"DA"},{"c":67.7,"I":52.1,"t":"UA"}]},"mark":{"type":"text","fontSize":12,"fontWeight":"bold","align":"left","baseline":"alphabetic"},"encoding":{"x":{"field":"c","type":"quantitative"},"y":{"field":"I","type":"quantitative"},"text":{"field":"t"}}}
]},
{"layer":[
{"data":{"values":[{"c":11.6,"I":36.9},{"c":99.7,"I":47.98}]},"mark":{"type":"line","color":"black","strokeWidth":3},"encoding":{"x":{"field":"c","type":"quantitative"},"y":{"field":"I","type":"quantitative","scale":{"domain":[36,52],"nice":false,"zero":false},"axis":{"orient":"right","values":[36,40,44,48,52],"title":"I (μA)","titleAngle":-90,"titleBaseline":"top","tickSize":-9,"tickWidth":2.5,"tickColor":"black","domain":false,"grid":false,"labelFont":"Liberation Serif","labelFontWeight":"bold","labelFontSize":18,"labelColor":"black","labelPadding":8,"titleFont":"Liberation Serif","titleFontWeight":"bold","titleFontSize":23,"titleColor":"black","titlePadding":14}}}},
{"data":{"values":[{"c":10,"I":37.08},{"c":40,"I":40.02},{"c":60,"I":43.16},{"c":80,"I":45.2},{"c":100,"I":48.34}]},"layer":[{"mark":{"type":"point","shape":"M0 -1L.951 -.309L.588 .809L-.588 .809L-.951 -.309Z","filled":true,"color":"black","size":400,"opacity":1,"strokeWidth":0},"encoding":{"x":{"field":"c","type":"quantitative"},"y":{"field":"I","type":"quantitative"}}},{"mark":{"type":"point","shape":"M.05 -.8L.8 -.27L.5 .68L.05 .68Z","filled":true,"color":"#f20a0a","size":400,"opacity":1,"strokeWidth":0},"encoding":{"x":{"field":"c","type":"quantitative"},"y":{"field":"I","type":"quantitative"}}}]}
]}
]}
]}
